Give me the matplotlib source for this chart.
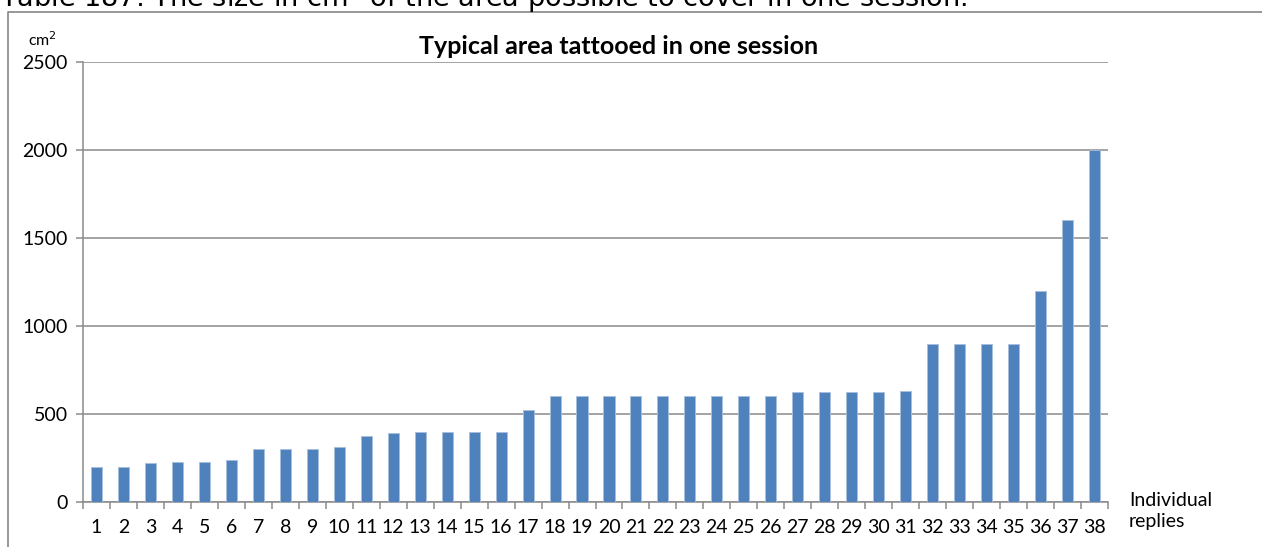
import numpy as np
import matplotlib.pyplot as plt
from matplotlib.lines import Line2D

# area reported by each respondent, cm^2
replies = [str(i) for i in range(1, 39)]
area = [200, 200, 220, 225, 225, 240, 300, 300, 300, 315,
        375, 390, 400, 400, 400, 400, 520, 600, 600, 600,
        600, 600, 600, 600, 600, 600, 625, 625, 625, 625,
        630, 900, 900, 900, 900, 1200, 1600, 2000]
y_ticks = [0, 500, 1000, 1500, 2000, 2500]

BAR_BLUE = '#4F81BD'
GRID_GREY = '#8a8a8a'

plt.rcParams['font.family'] = ['Lato', 'DejaVu Sans']

W, H = 1262, 547
fig = plt.figure(figsize=(W / 100, H / 100), dpi=100)

# caption of the table, partly clipped by the top edge
fig.text(0.0, 1 - 7 / H, 'Table 187: The size in cm$^2$ of the area possible to cover in one session.',
         family='DejaVu Sans', fontsize=19.5, ha='left', va='baseline', color='black')

# chart frame
fig.add_artist(Line2D([8 / W, 8 / W, 1.0], [0.0, 1 - 12 / H, 1 - 12 / H],
                      transform=fig.transFigure, color='#868686', lw=1.2))

ax = fig.add_axes([83 / W, 1 - 502 / H, (1108 - 83) / W, (502 - 62) / H])
x = np.arange(len(area))
ax.bar(x, area, width=0.41, color=BAR_BLUE, edgecolor='#a7c0de', linewidth=0.6, zorder=3)

ax.set_xlim(-0.5, len(area) - 0.5)
ax.set_ylim(0, 2500)
ax.set_yticks(y_ticks)
ax.yaxis.grid(True, color=GRID_GREY, lw=1.1, zorder=0)

ax.set_xticks(x)
ax.set_xticklabels(replies)
ax.set_xticks(np.arange(-0.5, len(area)), minor=True)
ax.tick_params(axis='x', which='major', length=0, pad=12, labelsize=14)
ax.tick_params(axis='x', which='minor', length=5, color=GRID_GREY, width=1.1)
ax.tick_params(axis='y', length=5, color=GRID_GREY, width=1.1, pad=6, labelsize=14)

for side in ['top', 'right']:
    ax.spines[side].set_visible(False)
for side in ['left', 'bottom']:
    ax.spines[side].set_color(GRID_GREY)
    ax.spines[side].set_linewidth(1.1)

fig.text(619 / W, 1 - 46 / H, 'Typical area tattooed in one session',
         fontsize=18, fontweight='bold', ha='center', va='center')
fig.text(28 / W, 1 - 40 / H, 'cm$^2$', fontsize=11.5, ha='left', va='center')
fig.text(1129 / W, 1 - 527 / H, 'Individual\nreplies', fontsize=14, ha='left', va='baseline',
         linespacing=1.25)

fig.savefig('out.png', dpi=100)
